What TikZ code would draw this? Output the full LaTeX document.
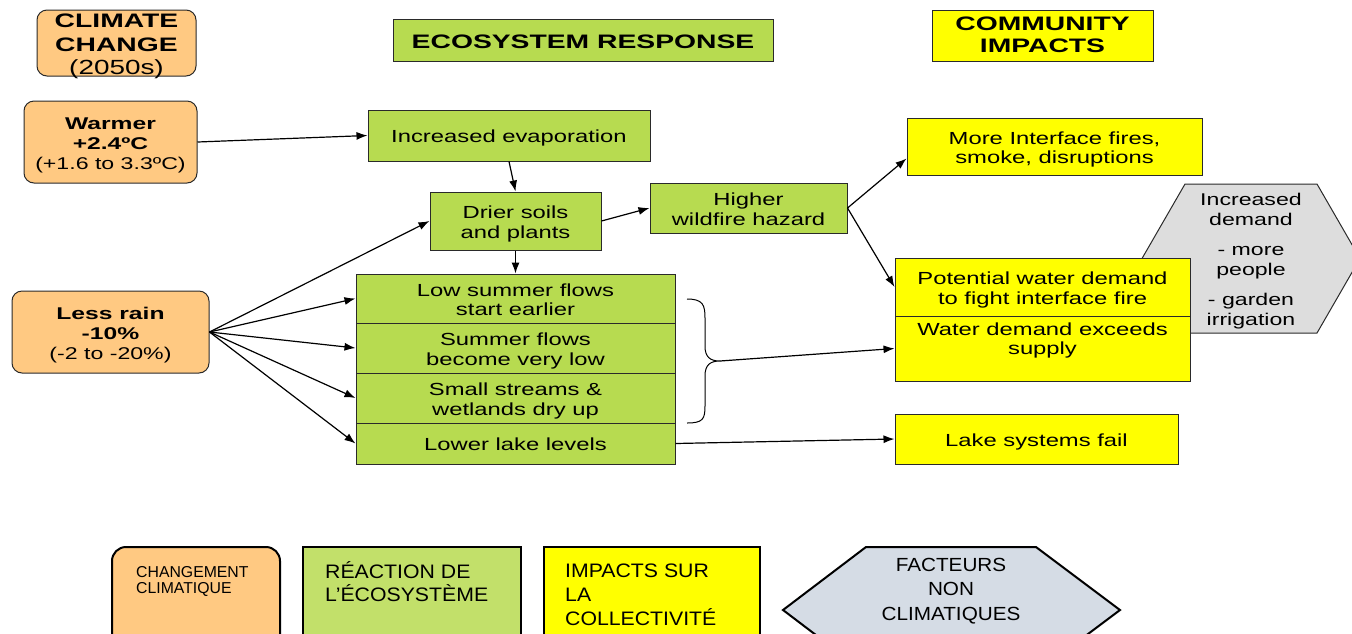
\documentclass[tikz,border=0pt]{standalone}
\usepackage{fontspec}
\newfontfamily\mf[FakeStretch=1.36,BoldFeatures={FakeStretch=1.45}]{Liberation Sans}
\newfontfamily\lgf{Liberation Sans}
\newfontfamily\lgfw[FakeStretch=1.09]{Liberation Sans}
\usetikzlibrary{arrows.meta}
\newcommand\myTs{\rule{0pt}{1.05em}}
\newcommand\myTsb{\rule{0pt}{0.85em}}
\definecolor{cor}{HTML}{FFC982}
\definecolor{cgr}{HTML}{B7DB50}
\definecolor{cye}{HTML}{FFFF00}
\definecolor{chx}{HTML}{DDDDDD}
\definecolor{lgr}{HTML}{C2E06A}
\definecolor{lhx}{HTML}{D5DCE5}
\definecolor{bdr}{HTML}{2A2A2A}
\tikzset{
  box/.style={draw=bdr, line width=1pt, inner sep=0pt, align=center,
    font=\mf\fontsize{17.5}{19.5}\selectfont,
    execute at begin node={\rule{0pt}{1.05em}},
    execute at end node={\rule[-0.21em]{0pt}{0pt}}},
  orbox/.style={box, fill=cor, rounded corners=10pt},
  grbox/.style={box, fill=cgr},
  yebox/.style={box, fill=cye},
  txt/.style={inner sep=0pt, align=center, font=\mf\fontsize{17.5}{19.5}\selectfont},
  arr/.style={-{Latex[length=11pt,width=8pt]}, line width=1.2pt},
  lgbox/.style={draw=black, line width=2pt},
  lgtxt/.style={inner sep=0pt, align=left, anchor=north west},
}
\begin{document}
\begin{tikzpicture}[x=1pt,y=-1pt]
\useasboundingbox (0,0) rectangle (1352,633);
\clip (0,0) rectangle (1352,633);

% headers
\node[orbox, minimum width=159pt, minimum height=66pt] (cc) at (116.5,43) {};
\node[txt, font=\mf\fontsize{19.5}{23.5}\selectfont] (cct) at (116.5,46.5)
  {{\bfseries CLIMATE}\\{\bfseries CHANGE}\\{\fontsize{20.5}{23.5}\selectfont (2050s)}};
\node[grbox, minimum width=380pt, minimum height=42pt,
  font=\mf\bfseries\fontsize{19.5}{22}\selectfont] (eco) at (583,40) {ECOSYSTEM RESPONSE};
\node[yebox, minimum width=221pt, minimum height=51pt,
  font=\mf\bfseries\fontsize{19.5}{22.5}\selectfont] (com) at (1042.5,35.5) {\myTsb COMMUNITY\\IMPACTS};

% climate drivers
\node[orbox, minimum width=173pt, minimum height=82pt,
  font=\mf\fontsize{17}{20}\selectfont] (warm) at (110.5,142)
  {\myTs{\bfseries Warmer}\\{\bfseries +2.4ºC}\\(+1.6 to 3.3ºC)};
\node[orbox, minimum width=197pt, minimum height=82pt,
  font=\mf\fontsize{17}{20}\selectfont] (rain) at (110.5,332)
  {\myTs{\bfseries Less rain}\\{\bfseries -10\%}\\(-2 to -20\%)};

% ecosystem response
\node[grbox, minimum width=282pt, minimum height=51pt] (evap) at (509,135.5) {Increased evaporation};
\node[grbox, minimum width=171pt, minimum height=58pt] (drier) at (515.5,221) {\myTs Drier soils\\and plants};
\node[grbox, minimum width=197pt, minimum height=50pt] (wild) at (748.5,208) {\myTs Higher\\wildfire hazard};
\node[grbox, minimum width=319pt, minimum height=49pt] (s1) at (515.5,298.5) {\myTs Low summer flows\\start earlier};
\node[grbox, minimum width=319pt, minimum height=50pt] (s2) at (515.5,348) {\myTs Summer flows\\become very low};
\node[grbox, minimum width=319pt, minimum height=50pt] (s3) at (515.5,398) {\myTs Small streams \&\\wetlands dry up};
\node[grbox, minimum width=319pt, minimum height=41pt] (s4) at (515.5,443.5) {Lower lake levels};

% non-climatic hexagon
\draw[draw=bdr, line width=1pt, fill=chx]
  (1142,258.5) -- (1185,184) -- (1317,184) -- (1360,258.5) -- (1317,333) -- (1185,333) -- cycle;
\node[txt, font=\mf\fontsize{17}{19.5}\selectfont] (dem) at (1251,261)
  {Increased\\demand\\[11pt]- more\\people\\[11pt]- garden\\irrigation};

% community impacts
\node[yebox, minimum width=295pt, minimum height=57pt] (fires) at (1054.5,146.5) {\myTs More Interface fires,\\smoke, disruptions};
\node[yebox, minimum width=295pt, minimum height=58pt] (pot) at (1042.5,287) {\myTs Potential water demand\\to fight interface fire};
\node[yebox, minimum width=295pt, minimum height=65pt] (wd) at (1042.5,348.5) {};
\node[txt] (wdt) at (1042.5,340.5) {Water demand exceeds\\supply};
\node[yebox, minimum width=283pt, minimum height=50pt] (lake) at (1036.5,439) {Lake systems fail};

% brace
\coordinate (bt) at (720,361);
\draw[line width=1pt] (687,299) .. controls (703,299) and (705,305) .. (705,318)
  -- (705,346) .. controls (705,357) and (710,361) .. (bt)
  .. controls (710,361) and (705,365) .. (705,376)
  -- (705,406) .. controls (705,419) and (703,423) .. (687,423);

% connectors
\draw[arr] (warm.east) -- (evap.west);
\draw[arr] (evap.south) -- (drier.north);
\draw[arr] (drier.east) -- (wild.west);
\draw[arr] (drier.south) -- (s1.north);
\draw[arr] (rain.east) -- (drier.west);
\draw[arr] (rain.east) -- (s1.west);
\draw[arr] (rain.east) -- (s2.west);
\draw[arr] (rain.east) -- (s3.west);
\draw[arr] (rain.east) -- (s4.west);
\draw[arr] (wild.east) -- ([yshift=-12pt]fires.west);
\draw[arr] (wild.east) -- (pot.west);
\draw[arr] (bt) -- (wd.west);
\draw[arr] (s4.east) -- (lake.west);

% legend
\draw[lgbox, fill=cor, rounded corners=14pt] (112,547) rectangle (280,680);
\draw[lgbox, fill=lgr] (303,547) rectangle (521,680);
\draw[lgbox, fill=cye] (544,547) rectangle (760,680);
\draw[lgbox, fill=lhx] (783,610) -- (866,547) -- (1036,547) -- (1120,610) -- (1036,673) -- (866,673) -- cycle;
\node[lgtxt, font=\lgf\fontsize{15.8}{16}\selectfont] (l1) at (136,566) {CHANGEMENT\\CLIMATIQUE};
\node[lgtxt, font=\lgfw\fontsize{19.5}{23.5}\selectfont] (l2) at (325,561) {RÉACTION DE\\L’ÉCOSYSTÈME};
\node[lgtxt, font=\lgfw\fontsize{19.5}{24}\selectfont] (l3) at (565,564) {IMPACTS SUR\\LA\\COLLECTIVITÉ};
\node[inner sep=0pt, align=center, anchor=north, font=\lgfw\fontsize{19}{24.5}\selectfont] (l4) at (951,558) {FACTEURS\\NON\\CLIMATIQUES};
\end{tikzpicture}
\end{document}
